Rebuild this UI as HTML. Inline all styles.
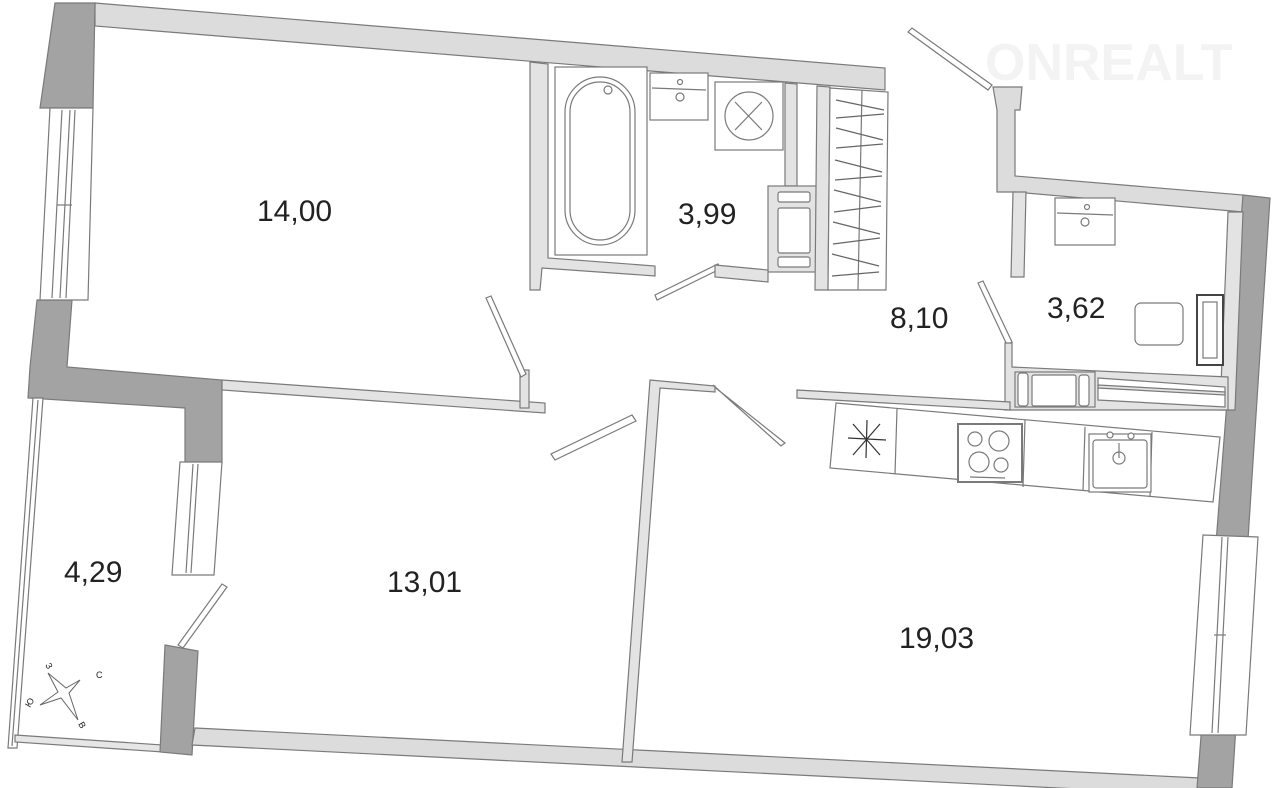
<!DOCTYPE html>
<html><head><meta charset="utf-8"><style>
html,body{margin:0;padding:0;background:#fff;width:1280px;height:788px;overflow:hidden}
svg{display:block}
text{font-family:"Liberation Sans",sans-serif;fill:#222}
</style></head><body>
<svg width="1280" height="788" viewBox="0 0 1280 788" xmlns="http://www.w3.org/2000/svg">
<g stroke="#7a7a7a" stroke-width="1.2" stroke-linejoin="miter">
<text x="985" y="80" font-size="52" font-weight="bold" style="fill:#f3f3f3" stroke="none">ONREALT</text>
<polygon points="95,3 885,68 885,90 95,26" fill="#dcdcdc"/>
<polygon points="63,3 95,3 93,108 40,108 55,3" fill="#a3a3a3"/>
<polygon points="37,300 72,300 67,367 222,380 222,463 185,463 185,408 28,398 30,367" fill="#a3a3a3"/>
<polygon points="50,108 93,108 88,300 40,300" fill="#fff"/>
<line x1="62" y1="110" x2="52" y2="298"/><line x1="70" y1="110" x2="60" y2="298"/><line x1="75" y1="110" x2="66" y2="298"/>
<line x1="57" y1="205" x2="72" y2="205"/>
<polygon points="33,398 43,398 17,748 8,748" fill="#fff"/>
<line x1="38" y1="400" x2="12" y2="746"/>
<polygon points="15,735 163,745 163,752 15,742" fill="#e6e6e6"/>
<polygon points="180,462 222,462 214,575 172,575" fill="#fff"/>
<line x1="193" y1="464" x2="186" y2="573"/><line x1="198" y1="464" x2="191" y2="573"/>
<polygon points="165,645 198,651 192,755 160,752" fill="#a3a3a3"/>
<polygon points="195,728 1200,778 1200,795 192,745" fill="#dcdcdc"/>
<polygon points="222,380 545,403 545,413 222,390" fill="#e3e3e3"/>
<rect x="520" y="370" width="9" height="38" fill="#e3e3e3"/>
<polygon points="486,298 491,296 526,374 521,377" fill="#fff"/>
<polygon points="650,380 715,386 715,392 660,388 632,762 622,762" fill="#e3e3e3"/>
<polygon points="632,415 636,421 555,460 551,454" fill="#fff"/>
<polygon points="713,385 717,389 785,443 781,446" fill="#fff"/>
<polygon points="655,295 718,264 720,269 657,300" fill="#fff"/>
<polygon points="178,645 222,584 227,587 183,648" fill="#fff"/>
<polygon points="908,32 912,28 992,85 988,90" fill="#fff"/>
<polygon points="978,283 983,281 1012,342 1007,345" fill="#fff"/>
<polygon points="530,62 548,64 548,258 655,266 655,276 542,268 540,290 530,290" fill="#e3e3e3"/>
<rect x="555" y="67" width="92" height="188" fill="#fff"/>
<rect x="565" y="77" width="70" height="168" rx="35" fill="#fff"/>
<rect x="570" y="82" width="60" height="158" rx="30" fill="none"/>
<circle cx="608" cy="90" r="4" fill="#fff"/>
<rect x="650" y="73" width="58" height="47" fill="#fff"/>
<line x1="652" y1="88" x2="706" y2="90"/><circle cx="680" cy="82" r="2.5" fill="none"/><circle cx="680" cy="97" r="4" fill="none"/>
<rect x="715" y="82" width="68" height="68" fill="#fff"/>
<circle cx="749" cy="116" r="24" fill="none"/>
<line x1="735" y1="102" x2="762" y2="130"/><line x1="762" y1="102" x2="735" y2="130"/>
<polygon points="785,83 797,84 797,186 785,186" fill="#e3e3e3"/>
<rect x="768" y="186" width="50" height="86" fill="#e3e3e3"/>
<rect x="778" y="192" width="32" height="10" rx="2" fill="#fff"/>
<rect x="778" y="208" width="32" height="45" rx="2" fill="#fff"/>
<rect x="778" y="257" width="32" height="10" rx="2" fill="#fff"/>
<polygon points="715,265 768,270 768,282 715,277" fill="#e3e3e3"/>
<polygon points="817,86 830,87 828,290 815,290" fill="#e3e3e3"/>
<polygon points="830,88 888,92 886,290 828,290" fill="#fff"/>
<line x1="862" y1="90" x2="858" y2="290"/>
<g stroke="#666">
<line x1="836" y1="100" x2="884" y2="110"/><line x1="836" y1="118" x2="884" y2="114"/>
<line x1="836" y1="128" x2="883" y2="140"/><line x1="836" y1="148" x2="883" y2="144"/>
<line x1="835" y1="160" x2="882" y2="172"/><line x1="835" y1="180" x2="882" y2="176"/>
<line x1="834" y1="190" x2="881" y2="202"/><line x1="834" y1="212" x2="881" y2="206"/>
<line x1="833" y1="222" x2="880" y2="234"/><line x1="833" y1="244" x2="880" y2="238"/>
<line x1="832" y1="254" x2="879" y2="266"/><line x1="832" y1="276" x2="879" y2="272"/>
</g>
<polygon points="993,87 1022,87 1020,110 1015,110 1015,176 1243,195 1243,212 1015,192 997,192 997,110" fill="#dcdcdc"/>
<polygon points="1243,195 1270,198 1232,788 1197,788" fill="#a3a3a3"/>
<polygon points="1203,535 1258,537 1246,735 1190,735" fill="#fff"/>
<line x1="1222" y1="537" x2="1212" y2="733"/><line x1="1228" y1="537" x2="1218" y2="733"/>
<line x1="1214" y1="635" x2="1226" y2="635"/>
<polygon points="1228,212 1243,212 1235,410 1220,410" fill="#e3e3e3"/>
<polygon points="1013,192 1026,192 1024,277 1011,277" fill="#e3e3e3"/>
<rect x="1055" y="198" width="60" height="47" fill="#fff"/>
<line x1="1057" y1="213" x2="1113" y2="215"/><circle cx="1087" cy="207" r="2.5" fill="none"/><circle cx="1085" cy="222" r="4" fill="none"/>
<rect x="1135" y="303" width="48" height="42" rx="6" fill="#fff"/>
<rect x="1197" y="295" width="26" height="70" fill="#fff" stroke="#444" stroke-width="2"/>
<rect x="1203" y="302" width="14" height="56" fill="none"/>
<polygon points="1005,343 1012,343 1012,367 1228,377 1228,410 1005,410" fill="#e3e3e3"/>
<rect x="1015" y="372" width="80" height="35" fill="#e3e3e3"/>
<rect x="1018" y="373" width="10" height="33" rx="3" fill="#fff"/>
<rect x="1032" y="375" width="44" height="31" rx="2" fill="#fff"/>
<rect x="1079" y="375" width="10" height="31" rx="3" fill="#fff"/>
<polygon points="1098,378 1225,387 1225,407 1098,400" fill="#fff"/>
<polygon points="1098,385 1225,392 1225,395 1098,388" fill="#e3e3e3"/>
<polygon points="797,390 1010,402 1010,410 797,398" fill="#e3e3e3"/>
<polygon points="836,403 1220,437 1213,502 830,468" fill="#fff"/>
<line x1="897" y1="409" x2="895" y2="474"/><line x1="1025" y1="420" x2="1023" y2="487"/>
<line x1="1085" y1="427" x2="1083" y2="491"/><line x1="1152" y1="432" x2="1150" y2="497"/>
<rect x="958" y="424" width="64" height="58" fill="#fff" stroke-width="2"/>
<circle cx="975" cy="439" r="7" fill="none"/><circle cx="999" cy="441" r="10" fill="none"/>
<circle cx="979" cy="462" r="10" fill="none"/><circle cx="1001" cy="465" r="7" fill="none"/>
<line x1="970" y1="477" x2="1005" y2="478"/>
<rect x="1089" y="434" width="62" height="58" fill="#fff"/>
<rect x="1093" y="440" width="54" height="48" rx="3" fill="none"/>
<circle cx="1119" cy="458" r="6" fill="none"/><line x1="1119" y1="443" x2="1119" y2="458"/>
<circle cx="1110" cy="435" r="3" fill="#fff"/><circle cx="1131" cy="436" r="3" fill="#fff"/>
<g stroke="#333"><line x1="848" y1="438" x2="886" y2="440"/><line x1="867" y1="420" x2="866" y2="458"/>
<line x1="853" y1="424" x2="880" y2="455"/><line x1="880" y1="424" x2="853" y2="455"/></g>
<g stroke="#666" stroke-width="1"><polygon points="48,673 66,688 80,680 69,693 78,720 61,698 40,705 58,692" fill="none"/></g>
</g>
<g font-size="9" style="fill:#555">
<text x="45" y="665" transform="rotate(60 45 665)">З</text>
<text x="96" y="678">С</text>
<text x="30" y="708" transform="rotate(-60 30 708)">Ю</text>
<text x="78" y="724" transform="rotate(60 78 724)">В</text>
</g>
<g font-size="30">
<text x="257" y="221">14,00</text>
<text x="678" y="224">3,99</text>
<text x="890" y="328">8,10</text>
<text x="1047" y="318">3,62</text>
<text x="387" y="592">13,01</text>
<text x="64" y="582">4,29</text>
<text x="899" y="648">19,03</text>
</g>
</svg>
</body></html>
